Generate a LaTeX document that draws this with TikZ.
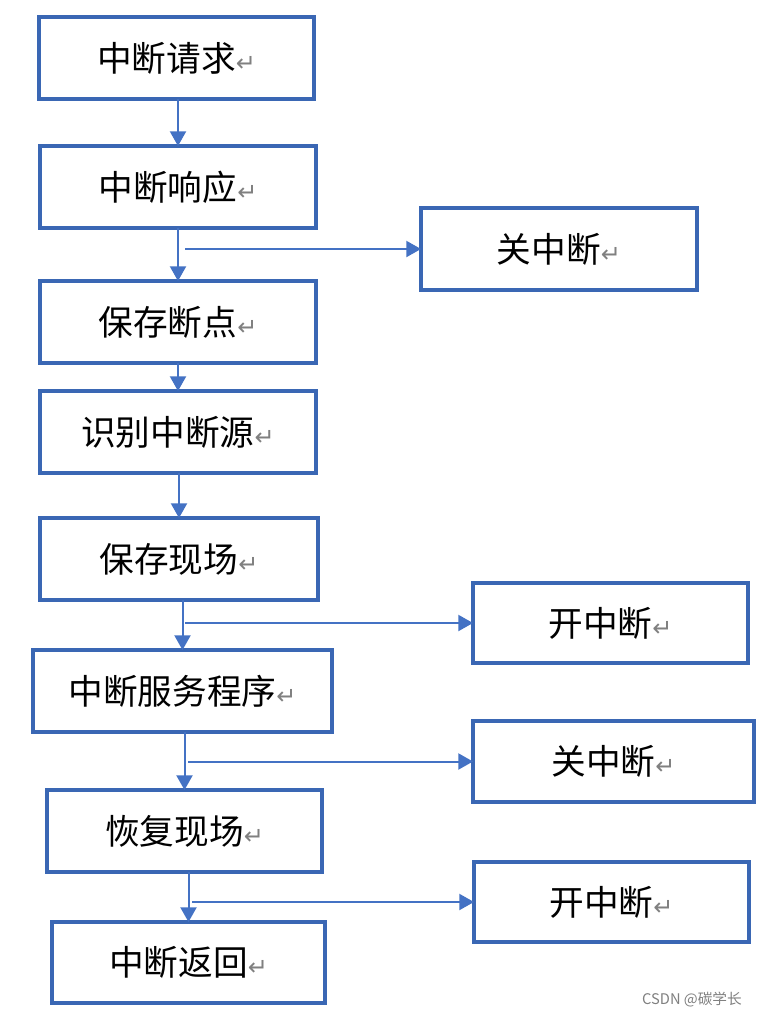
\documentclass[tikz,border=0pt]{standalone}
\usepackage{fontspec}
\newfontfamily\cjk{Noto Sans CJK SC}
\newfontfamily\symf{DejaVu Sans}
\usetikzlibrary{arrows.meta}
\definecolor{bord}{RGB}{58,103,180}
\definecolor{lnk}{RGB}{68,114,196}
\newcommand{\rtn}{{\symf\color{gray}\fontsize{18pt}{18pt}\selectfont ↵}}
\begin{document}
\begin{tikzpicture}[x=0.75pt,y=-0.75pt,
 box/.style={draw=bord,line width=2.8pt,fill=white,inner sep=0pt,outer sep=0pt,
   font=\cjk\fontsize{26pt}{26pt}\selectfont},
 sz/.style 2 args={minimum width=#1*0.75pt,minimum height=#2*0.75pt},
 arr/.style={draw=lnk,line width=1.5pt,-{Triangle[length=11pt,width=12pt]}}]
\useasboundingbox[fill=white] (0,0) rectangle (757,1017);
% main column
\node[box,sz={275}{82}] (b1) at (176.5,58) {中断请求\rtn};
\node[box,sz={276}{82}] (b2) at (178,187) {中断响应\rtn};
\node[box,sz={276}{82}] (b3) at (178,322) {保存断点\rtn};
\node[box,sz={276}{82}] (b4) at (178,432) {识别中断源\rtn};
\node[box,sz={278}{82}] (b5) at (179,559) {保存现场\rtn};
\node[box,sz={299}{82}] (b6) at (182.5,691) {中断服务程序\rtn};
\node[box,sz={275}{82}] (b7) at (184.5,831) {恢复现场\rtn};
\node[box,sz={273}{81}] (b8) at (188.5,962.5) {中断返回\rtn};
% side column
\node[box,sz={276}{82}] (k1) at (559,249) {关中断\rtn};
\node[box,sz={275}{80}] (k2) at (610.5,623) {开中断\rtn};
\node[box,sz={281}{81}] (k3) at (613.5,761.5) {关中断\rtn};
\node[box,sz={275}{80}] (k4) at (611.5,902) {开中断\rtn};
% vertical arrows
\foreach \a/\b in {b1/b2,b2/b3,b3/b4,b4/b5,b5/b6,b6/b7,b7/b8}
  \draw[arr] (\b.north |- \a.south) -- (\b.north);
% side arrows
\coordinate (s1) at (185,0);
\coordinate (s2) at (185,0);
\coordinate (s3) at (188,0);
\coordinate (s4) at (192,0);
\draw[arr] (s1 |- k1.west) -- (k1.west);
\draw[arr] (s2 |- k2.west) -- (k2.west);
\draw[arr] (s3 |- k3.west) -- (k3.west);
\draw[arr] (s4 |- k4.west) -- (k4.west);
% watermark
\node[text=gray,font=\cjk\fontsize{11pt}{11pt}\selectfont] (wm) at (692,1000) {CSDN @碳学长};
\end{tikzpicture}
\end{document}
